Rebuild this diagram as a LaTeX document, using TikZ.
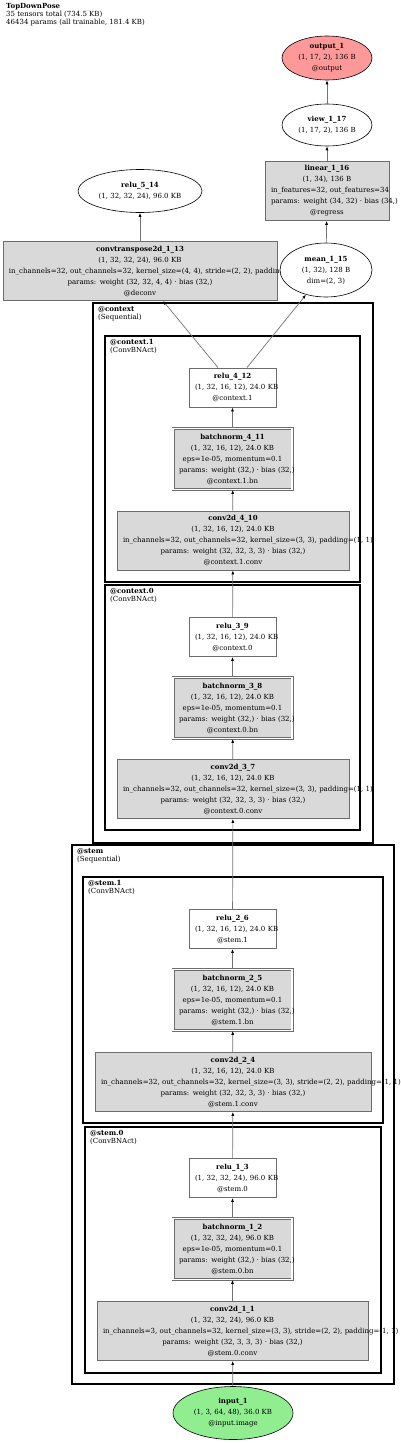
\documentclass[tikz,border=0pt]{standalone}
\usepackage{fontspec}
\setmainfont{DejaVu Serif}
\usetikzlibrary{arrows.meta,positioning,shapes.geometric,calc}
\definecolor{outred}{HTML}{FF9999}
\definecolor{ingreen}{HTML}{90EE90}
\newcommand{\opfont}{\fontsize{7}{11}\selectfont}
\newcommand{\panelfont}{\fontsize{7}{8}\selectfont}
\tikzset{
  opbox/.style={
    rectangle,
    draw=gray!85!black,
    fill=black!15,
    line width=0.8pt,
    minimum width=#1,
    text width=#1-12pt,
    minimum height=59pt,
    inner xsep=6pt,
    inner ysep=2pt,
    align=center,
    font=\opfont
  },
  actbox/.style={opbox=87pt, fill=white, minimum height=39pt},
  bnbox/.style={opbox=119pt, double=white, double distance=1.4pt, minimum height=61pt},
  tensor/.style={ellipse, draw=black, fill=white, line width=0.6pt, inner sep=0pt, align=center, font=\opfont},
  flow/.style={-{Latex[length=4pt, width=3pt, color=black]}, draw=gray!90!black, line width=0.7pt},
  panel/.style={draw=black, line width=#1},
  paneltitle/.style={anchor=north west, inner sep=0pt, align=left, font=\panelfont}
}
\newcommand{\modulepanel}[6]{
  \draw[panel=#5] #1 rectangle #2;
  \node[paneltitle] (#6) at ($#1+(5,3)$) {\textbf{#3}\\(#4)};
}

\begin{document}
\begin{tikzpicture}[x=1pt, y=-1pt]
  \useasboundingbox (0,0) rectangle (400,1443);

  \node[paneltitle] (summary) at (6,3) {\textbf{TopDownPose}\\35 tensors total (734.5 KB)\\46434 params (all trainable, 181.4 KB)};

  % module clusters
  \modulepanel{(93,303)}{(373,843)}{@context}{Sequential}{2.6pt}{ctxtitle}
  \modulepanel{(105,336)}{(360,582)}{@context.1}{ConvBNAct}{2.2pt}{ctxonetitle}
  \modulepanel{(105,585)}{(360,830)}{@context.0}{ConvBNAct}{2.2pt}{ctxzerotitle}
  \modulepanel{(72,845)}{(394,1384)}{@stem}{Sequential}{2.6pt}{stemtitle}
  \modulepanel{(83,877)}{(383,1123)}{@stem.1}{ConvBNAct}{2.2pt}{stemonetitle}
  \modulepanel{(85,1127)}{(381,1373)}{@stem.0}{ConvBNAct}{2.2pt}{stemzerotitle}

  % head
  \node[tensor, fill=outred, minimum width=90pt, minimum height=44pt] (output) at (327,58) {\textbf{output\_1}\\(1, 17, 2), 136 B\\@output};
  \node[tensor, minimum width=90pt, minimum height=42pt] (view) at (327,125) {\textbf{view\_1\_17}\\(1, 17, 2), 136 B};
  \node[opbox=124pt] (linear) at (327,191) {\textbf{linear\_1\_16}\\(1, 34), 136 B\\\mbox{in\_features=32, out\_features=34}\\\mbox{params: weight (34, 32) · bias (34,)}\\@regress};
  \node[tensor, minimum width=124pt, minimum height=43pt] (relu514) at (140,191) {\textbf{relu\_5\_14}\\(1, 32, 32, 24), 96.0 KB};
  \node[opbox=274pt] (deconv) at (140,271) {\textbf{convtranspose2d\_1\_13}\\(1, 32, 32, 24), 96.0 KB\\\mbox{in\_channels=32, out\_channels=32, kernel\_size=(4, 4), stride=(2, 2), padding=(1, 1)}\\params: weight (32, 32, 4, 4) · bias (32,)\\@deconv};
  \node[tensor, minimum width=92pt, minimum height=54pt] (mean) at (326,270) {\textbf{mean\_1\_15}\\(1, 32), 128 B\\dim=(2, 3)};

  % context
  \node[actbox] (relu412) at (232.5,387.5) {\textbf{relu\_4\_12}\\\mbox{(1, 32, 16, 12), 24.0 KB}\\@context.1};
  \node[bnbox] (bn411) at (232.5,459) {\textbf{batchnorm\_4\_11}\\(1, 32, 16, 12), 24.0 KB\\\mbox{eps=1e-05, momentum=0.1}\\\mbox{params: weight (32,) · bias (32,)}\\@context.1.bn};
  \node[opbox=232pt] (conv410) at (233,540.5) {\textbf{conv2d\_4\_10}\\(1, 32, 16, 12), 24.0 KB\\\mbox{in\_channels=32, out\_channels=32, kernel\_size=(3, 3), padding=(1, 1)}\\params: weight (32, 32, 3, 3) · bias (32,)\\@context.1.conv};
  \node[actbox] (relu39) at (232.5,637) {\textbf{relu\_3\_9}\\\mbox{(1, 32, 16, 12), 24.0 KB}\\@context.0};
  \node[bnbox] (bn38) at (232.5,708) {\textbf{batchnorm\_3\_8}\\(1, 32, 16, 12), 24.0 KB\\\mbox{eps=1e-05, momentum=0.1}\\\mbox{params: weight (32,) · bias (32,)}\\@context.0.bn};
  \node[opbox=232pt] (conv37) at (233,789) {\textbf{conv2d\_3\_7}\\(1, 32, 16, 12), 24.0 KB\\\mbox{in\_channels=32, out\_channels=32, kernel\_size=(3, 3), padding=(1, 1)}\\params: weight (32, 32, 3, 3) · bias (32,)\\@context.0.conv};

  % stem
  \node[actbox] (relu26) at (232.5,929) {\textbf{relu\_2\_6}\\\mbox{(1, 32, 16, 12), 24.0 KB}\\@stem.1};
  \node[bnbox] (bn25) at (232.5,1000) {\textbf{batchnorm\_2\_5}\\(1, 32, 16, 12), 24.0 KB\\\mbox{eps=1e-05, momentum=0.1}\\\mbox{params: weight (32,) · bias (32,)}\\@stem.1.bn};
  \node[opbox=276pt] (conv24) at (233,1082) {\textbf{conv2d\_2\_4}\\(1, 32, 16, 12), 24.0 KB\\\mbox{in\_channels=32, out\_channels=32, kernel\_size=(3, 3), stride=(2, 2), padding=(1, 1)}\\params: weight (32, 32, 3, 3) · bias (32,)\\@stem.1.conv};
  \node[actbox] (relu13) at (232.5,1178) {\textbf{relu\_1\_3}\\\mbox{(1, 32, 32, 24), 96.0 KB}\\@stem.0};
  \node[bnbox] (bn12) at (232.5,1249) {\textbf{batchnorm\_1\_2}\\(1, 32, 32, 24), 96.0 KB\\\mbox{eps=1e-05, momentum=0.1}\\\mbox{params: weight (32,) · bias (32,)}\\@stem.0.bn};
  \node[opbox=271pt] (conv11) at (232.5,1331) {\textbf{conv2d\_1\_1}\\(1, 32, 32, 24), 96.0 KB\\\mbox{in\_channels=3, out\_channels=32, kernel\_size=(3, 3), stride=(2, 2), padding=(1, 1)}\\params: weight (32, 3, 3, 3) · bias (32,)\\@stem.0.conv};
  \node[tensor, fill=ingreen, minimum width=120pt, minimum height=53pt] (input) at (233,1413) {\textbf{input\_1}\\(1, 3, 64, 48), 36.0 KB\\@input.image};

  % data flow, bottom to top
  \draw[flow] (input) -- (conv11);
  \draw[flow] (conv11) -- (bn12);
  \draw[flow] (bn12) -- (relu13);
  \draw[flow] (relu13) -- (conv24);
  \draw[flow] (conv24) -- (bn25);
  \draw[flow] (bn25) -- (relu26);
  \draw[flow] (relu26) -- (conv37);
  \draw[flow] (conv37) -- (bn38);
  \draw[flow] (bn38) -- (relu39);
  \draw[flow] (relu39) -- (conv410);
  \draw[flow] (conv410) -- (bn411);
  \draw[flow] (bn411) -- (relu412);
  \draw[flow] ([xshift=-14.5pt]relu412.north) -- ([xshift=23pt]deconv.south);
  \draw[flow] ([xshift=14.5pt]relu412.north) -- (mean);
  \draw[flow] (deconv) -- (relu514);
  \draw[flow] (mean) -- (linear);
  \draw[flow] (linear) -- (view);
  \draw[flow] (view) -- (output);

\end{tikzpicture}
\end{document}
